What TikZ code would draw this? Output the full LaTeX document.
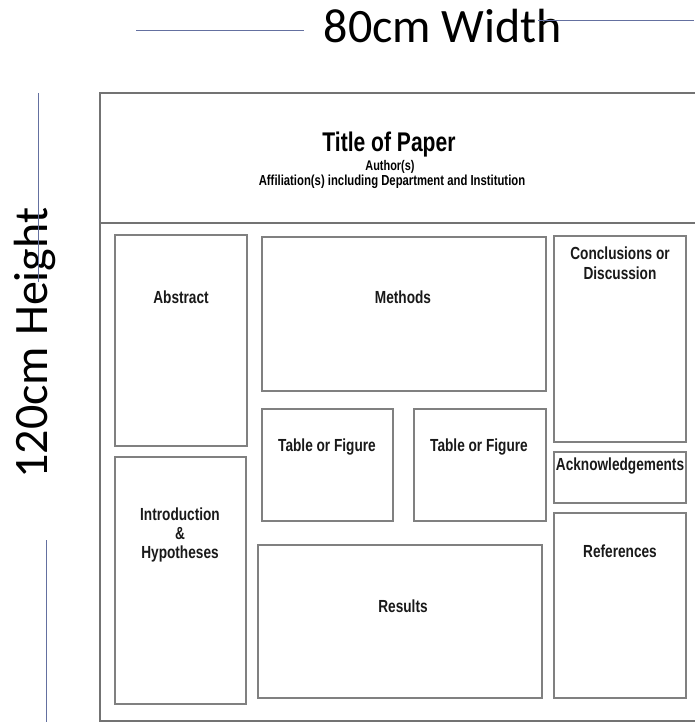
\documentclass[tikz,border=0pt]{standalone}
\usepackage{fontspec}
\setmainfont{Liberation Sans}
\newfontfamily\dimfont{Carlito}
\newfontfamily\condfont[FakeStretch=0.78]{Liberation Sans}
\definecolor{dimline}{RGB}{100,112,160}
\definecolor{boxline}{RGB}{128,128,128}
\definecolor{frameline}{RGB}{115,115,115}
\begin{document}
\begin{tikzpicture}[x=1pt,y=-1pt,
  box/.style={draw=boxline, line width=1.4pt, inner sep=0pt, rectangle},
  lbl/.style={font=\condfont\bfseries\fontsize{17.5}{19}\selectfont, text=black!90, align=center, inner sep=0pt},
  dim/.style={font=\dimfont\fontsize{48}{50}\selectfont, inner sep=0pt},
  dimrule/.style={draw=dimline, line width=0.9pt}]
\useasboundingbox (0,0) rectangle (694,722);
% dimension annotations
\node[dim, anchor=base] (wtxt) at (443,43) {80cm Width};
\coordinate (wl1) at (136,30);
\coordinate (wl2) at (304,30);
\coordinate (wr1) at (538,20);
\coordinate (wr2) at (694,20);
\draw[dimrule] (wl1) -- (wl2);
\draw[dimrule] (wr1) -- (wr2);
\node[dim, rotate=90, anchor=base] (htxt) at (47,343) {120cm Height};
\coordinate (hl1) at (38,93);
\coordinate (hl2) at (38,282);
\coordinate (hl3) at (46,540);
\coordinate (hl4) at (46,722);
\draw[dimrule] (hl1) -- (hl2);
\draw[dimrule] (hl3) -- (hl4);
% poster frame
\coordinate (f1) at (100,93);
\coordinate (f2) at (700,721);
\coordinate (d1) at (100,223);
\coordinate (d2) at (700,223);
\draw[draw=frameline, line width=2pt] (f1) rectangle (f2);
\draw[draw=frameline, line width=2pt] (d1) -- (d2);
\node[font=\condfont\bfseries\fontsize{27}{29}\selectfont, inner sep=0pt] (title) at (389,145) {Title of Paper};
\node[font=\condfont\bfseries\fontsize{14}{16}\selectfont, inner sep=0pt] (auth) at (390,167) {Author(s)};
\node[font=\condfont\bfseries\fontsize{14.5}{16}\selectfont, inner sep=0pt] (affil) at (392,182) {Affiliation(s) including Department and Institution};
% boxes
\node[box, minimum width=132pt, minimum height=211pt] (abs) at (181,340.5) {};
\node[box, minimum width=284pt, minimum height=154pt] (meth) at (404,314) {};
\node[box, minimum width=131pt, minimum height=112pt] (tab1) at (327.5,465) {};
\node[box, minimum width=132pt, minimum height=112pt] (tab2) at (480,465) {};
\node[box, minimum width=132pt, minimum height=206pt] (conc) at (620,339) {};
\node[box, minimum width=132pt, minimum height=51pt] (ack) at (620,477.5) {};
\node[box, minimum width=131pt, minimum height=247pt] (intro) at (180.5,580.5) {};
\node[box, minimum width=284pt, minimum height=153pt] (res) at (400,621.5) {};
\node[box, minimum width=132pt, minimum height=185pt] (refs) at (620,605.5) {};
% labels
\node[lbl] (absl) at (181,297) {Abstract};
\node[lbl] (methl) at (403,297) {Methods};
\node[lbl] (tab1l) at (327,447) {Table or Figure};
\node[lbl] (tab2l) at (479,447) {Table or Figure};
\node[lbl, align=center] (concl) at (620,263) {Conclusions or\\[1pt]Discussion};
\node[lbl] (ackl) at (620,466) {Acknowledgements};
\node[lbl, align=center] (introl) at (180,535) {Introduction\\[0pt]\&\\[0pt]Hypotheses};
\node[lbl] (refsl) at (620,551) {References};
\node[lbl] (resl) at (403,606) {Results};
\end{tikzpicture}
\end{document}
